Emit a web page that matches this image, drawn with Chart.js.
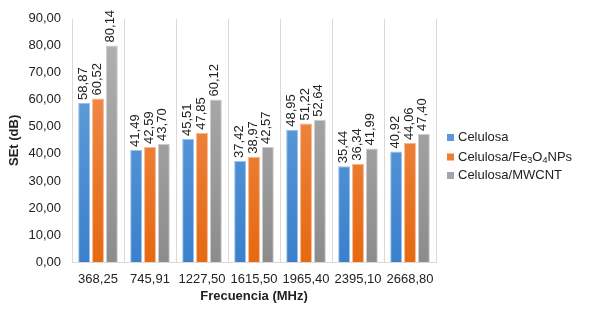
<!DOCTYPE html>
<html lang="es">
<head>
  <meta charset="UTF-8">
  <title>SEt vs Frecuencia</title>
  <script src="https://cdn.jsdelivr.net/npm/chart.js"></script>
  <style>
    html, body { margin: 0; padding: 0; background: #fff; }
    #wrap { width: 590px; height: 312px; position: relative; }
  </style>
</head>
<body>
  <div id="wrap"><canvas id="chart"></canvas></div>

  <script>
    // data
    const frecuencias = ['368,25', '745,91', '1227,50', '1615,50', '1965,40', '2395,10', '2668,80'];
    const celulosa = [58.87, 41.49, 45.51, 37.42, 48.95, 35.44, 40.92];
    const celulosaFe3O4 = [60.52, 42.59, 47.85, 38.97, 51.22, 36.34, 44.06];
    const celulosaMWCNT = [80.14, 43.70, 60.12, 42.57, 52.64, 41.99, 47.40];

    const FONT = "'Liberation Sans', Arial, sans-serif";
    const TEXT = '#222';
    Chart.defaults.font.family = FONT;
    Chart.defaults.font.size = 13;
    Chart.defaults.color = TEXT;

    const fmt = v => v.toFixed(2).replace('.', ',');

    // vertical gradient per series (lighter top, darker bottom)
    function grad(top, bottom) {
      return (c) => {
        const area = c.chart.chartArea;
        if (!area) return top;
        const g = c.chart.ctx.createLinearGradient(0, area.top, 0, area.bottom);
        g.addColorStop(0, top);
        g.addColorStop(1, bottom);
        return g;
      };
    }

    // rotated value labels above each bar
    const barLabels = {
      id: 'barLabels',
      afterDatasetsDraw(chart) {
        const ctx = chart.ctx;
        ctx.save();
        ctx.font = '13px ' + FONT;
        ctx.fillStyle = TEXT;
        ctx.textAlign = 'left';
        ctx.textBaseline = 'middle';
        chart.data.datasets.forEach((ds, i) => {
          chart.getDatasetMeta(i).data.forEach((el, j) => {
            ctx.save();
            ctx.translate(el.x - 1, el.y - 3);
            ctx.rotate(-Math.PI / 2);
            ctx.fillText(fmt(ds.data[j]), 0, 0);
            ctx.restore();
          });
        });
        ctx.restore();
      }
    };

    // legend on the right, with subscripts for Fe3O4
    const sideLegend = {
      id: 'sideLegend',
      afterDraw(chart) {
        const ctx = chart.ctx;
        const x = chart.chartArea.right + 11;
        const rows = [
          { color: '#5b9bd5', parts: [['Celulosa', false]] },
          { color: '#ed7d31', parts: [['Celulosa/Fe', false], ['3', true], ['O', false], ['4', true], ['NPs', false]] },
          { color: '#a5a5a5', parts: [['Celulosa/MWCNT', false]] }
        ];
        const ys = [137.5, 157, 175.5];
        ctx.save();
        ctx.textBaseline = 'middle';
        ctx.fillStyle = TEXT;
        rows.forEach((r, i) => {
          const y = ys[i];
          ctx.fillStyle = r.color;
          ctx.fillRect(x, y - 3.5, 7, 7);
          let tx = x + 11;
          ctx.fillStyle = TEXT;
          r.parts.forEach(([t, sub]) => {
            ctx.font = (sub ? '9px ' : '13px ') + FONT;
            ctx.fillText(t, tx, sub ? y + 4 : y);
            tx += ctx.measureText(t).width;
          });
        });
        ctx.restore();
      }
    };

    const ctx = document.getElementById('chart').getContext('2d');
    new Chart(ctx, {
      type: 'bar',
      data: {
        labels: frecuencias,
        datasets: [
          {
            label: 'Celulosa',
            data: celulosa,
            backgroundColor: grad('#6ea6de', '#3a80cc'),
            borderColor: '#9cc3ea',
            borderWidth: 1
          },
          {
            label: 'Celulosa/Fe3O4NPs',
            data: celulosaFe3O4,
            backgroundColor: grad('#f3955f', '#e5690f'),
            borderColor: '#f7b58c',
            borderWidth: 1
          },
          {
            label: 'Celulosa/MWCNT',
            data: celulosaMWCNT,
            backgroundColor: grad('#b4b4b4', '#8c8c8c'),
            borderColor: '#cccccc',
            borderWidth: 1
          }
        ]
      },
      options: {
        responsive: true,
        maintainAspectRatio: false,
        animation: false,
        datasets: { bar: { categoryPercentage: 0.8, barPercentage: 0.86 } },
        layout: { padding: { top: 12, right: 154, left: 0, bottom: 0 } },
        plugins: {
          legend: { display: false },
          tooltip: { enabled: false }
        },
        scales: {
          x: {
            afterFit: s => { s.height = 50; },
            grid: { color: '#d9d9d9', drawTicks: false, offset: true },
            border: { display: true, color: '#d9d9d9' },
            ticks: { padding: 10, color: TEXT, maxRotation: 0, autoSkip: false },
            title: {
              display: true,
              text: 'Frecuencia (MHz)',
              font: { weight: 'bold', size: 13 },
              color: TEXT,
              padding: { top: 0, bottom: 8 }
            }
          },
          y: {
            min: 0,
            max: 90,
            afterFit: s => { s.width = 72; },
            grid: { display: false, drawTicks: false },
            border: { display: false },
            ticks: { stepSize: 10, padding: 11, color: TEXT, callback: v => fmt(v) },
            title: {
              display: true,
              text: 'SEt (dB)',
              font: { weight: 'bold', size: 13 },
              color: TEXT,
              padding: { top: 7, bottom: 0 }
            }
          }
        }
      },
      plugins: [barLabels, sideLegend]
    });
  </script>
</body>
</html>
